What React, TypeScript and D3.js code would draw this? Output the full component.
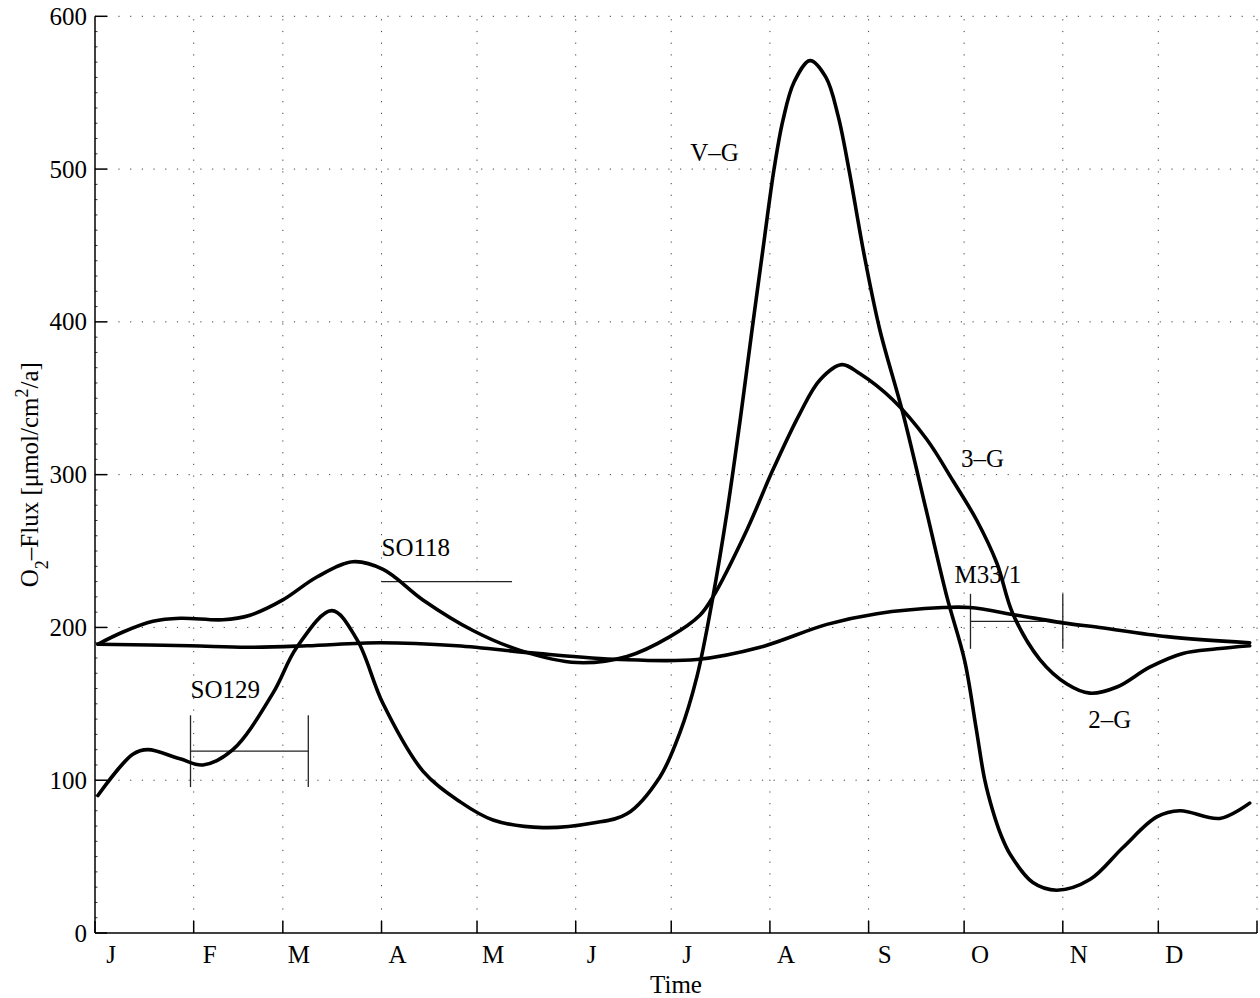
import React from "react";
import * as d3 from "d3";

// ---- data (x = day of year, y = O2 flux) ----
const monthLabels = ["J", "F", "M", "A", "M", "J", "J", "A", "S", "O", "N", "D"];
const monthStarts = [0, 31, 59, 90, 120, 151, 181, 212, 243, 273, 304, 334, 365];
const yTicks = [0, 100, 200, 300, 400, 500, 600];

const seriesVG: [number, number][] = [
  [0.9, 90], [11.9, 117], [16.6, 120], [26.7, 114], [33.9, 110], [43.3, 120],
  [55.9, 157], [63.4, 187], [74.4, 211], [82.3, 192], [90.5, 150], [103.0, 106],
  [114.6, 86], [125.0, 74], [140.7, 69], [156.4, 72], [167.1, 78], [177.4, 102],
  [183.7, 131], [189.1, 168], [194.1, 220], [198.5, 275], [202.6, 335], [206.4, 395],
  [210.1, 452], [213.3, 500], [216.1, 532], [219.6, 557], [224.6, 571], [229.6, 560],
  [233.4, 535], [236.8, 500], [241.5, 445], [246.5, 395], [253.8, 340], [261.3, 275],
  [267.6, 220], [273.2, 178], [276.7, 135], [279.5, 100], [282.0, 80], [284.6, 64],
  [287.6, 51], [294.6, 33], [302.1, 28], [312.5, 35], [322.9, 56], [333.5, 76],
  [340.8, 80], [353.3, 75], [362.7, 85],
];

const series3G: [number, number][] = [
  [0.9, 189], [8.8, 197], [18.2, 204], [26.7, 206], [40.2, 205], [48.7, 208],
  [59.0, 218], [69.7, 233], [81.0, 243], [90.5, 238], [103.0, 218], [118.7, 198],
  [133.5, 185], [151.4, 177], [167.1, 181], [180.6, 194], [190.0, 208], [194.1, 220],
  [204.8, 264], [212.9, 303], [221.4, 340], [227.7, 362], [234.6, 372], [240.3, 366],
  [250.6, 349], [261.3, 323], [269.5, 296], [277.0, 270], [283.3, 242], [288.3, 209],
  [296.8, 179], [305.3, 163], [312.5, 157], [321.0, 161], [331.3, 174], [341.7, 183],
  [352.4, 186], [362.7, 188],
];

const series2G: [number, number][] = [
  [0.9, 189], [29.8, 188], [47.7, 187], [66.6, 188], [89.5, 190], [113.7, 188],
  [138.8, 183], [164.9, 179], [189.1, 179], [208.9, 187], [229.9, 202], [245.6, 209],
  [266.3, 213], [274.8, 213], [289.6, 208], [304.0, 203], [315.6, 200], [336.7, 194],
  [362.7, 190],
];

// cruise periods
const cruiseNames = ["SO129", "SO118", "M33/1"];
const cruiseStart = [30, 90, 275];
const cruiseEnd = [67, 131, 304];
const cruiseValue = [119, 230, 204];
const cruiseHalf = [23.5, 0, 18];
const cruiseLabelPos: [number, number][] = [[30, 154], [90, 247], [270, 229]];

const curveLabels = ["V–G", "3–G", "2–G"];
const curveLabelPos: [number, number][] = [[187, 505], [272, 305], [312, 134]];

const W = 1260;
const H = 998;
const L = 95;
const R = 1257;
const T = 16.3;
const B = 933;

export default function App() {
  const x = d3.scaleLinear().domain([0, 365]).range([L, R]);
  const y = d3.scaleLinear().domain([0, 600]).range([B, T]);
  const line = d3
    .line<[number, number]>()
    .x((d) => x(d[0]))
    .y((d) => y(d[1]))
    .curve(d3.curveCatmullRom.alpha(0.5));

  const font = "'Liberation Serif', 'DejaVu Serif', serif";
  const minor = d3.range(0, 601, 10).filter((v) => v % 100 !== 0);

  return (
    <svg
      width={W}
      height={H}
      style={{ position: "absolute", left: 0, top: 0, display: "block", background: "#fff" }}
      fontFamily={font}
    >
      {/* grid */}
      <g stroke="#000" strokeWidth={1} strokeDasharray="1.2 10.5" opacity={0.75}>
        {yTicks.filter((v) => v > 0).map((v) => (
          <line key={"gy" + v} x1={L} x2={R} y1={y(v)} y2={y(v)} />
        ))}
        {monthStarts.filter((d) => d > 0).map((d) => (
          <line key={"gx" + d} x1={x(d)} x2={x(d)} y1={B} y2={T} />
        ))}
      </g>

      {/* axes */}
      <g stroke="#000" strokeWidth={1.5} fill="none">
        <line x1={L} x2={L} y1={T} y2={B} />
        <line x1={L} x2={R} y1={B} y2={B} />
        {yTicks.map((v) => (
          <line key={"ty" + v} x1={L} x2={L + 12} y1={y(v)} y2={y(v)} />
        ))}
        {monthStarts.map((d) => (
          <line key={"tx" + d} x1={x(d)} x2={x(d)} y1={B} y2={B - 12} />
        ))}
      </g>
      <g stroke="#000" strokeWidth={0.8}>
        {minor.map((v) => (
          <line key={"my" + v} x1={L} x2={L + 2.5} y1={y(v)} y2={y(v)} />
        ))}
      </g>

      {/* tick labels */}
      <g fontSize={25} fill="#000">
        {yTicks.map((v) => (
          <text key={"ly" + v} x={L - 8} y={y(v) + 8.5} textAnchor="end">
            {v}
          </text>
        ))}
        {monthLabels.map((m, i) => (
          <text key={"lx" + i} x={x(monthStarts[i]) + 16} y={963} textAnchor="middle">
            {m}
          </text>
        ))}
        <text x={676} y={993} textAnchor="middle">Time</text>
        <text transform={`translate(38,${(T + B) / 2}) rotate(-90)`} textAnchor="middle">
          O<tspan baselineShift="sub" fontSize={18}>2</tspan>
          <tspan>–Flux [μmol/cm</tspan>
          <tspan baselineShift="super" fontSize={18}>2</tspan>
          <tspan>/a]</tspan>
        </text>
      </g>

      {/* cruise periods */}
      <g stroke="#222" strokeWidth={1.3}>
        {cruiseNames.map((n, i) => (
          <g key={"c" + i}>
            <line x1={x(cruiseStart[i])} x2={x(cruiseEnd[i])} y1={y(cruiseValue[i])} y2={y(cruiseValue[i])} />
            {cruiseHalf[i] > 0 && (
              <>
                <line
                  x1={x(cruiseStart[i])}
                  x2={x(cruiseStart[i])}
                  y1={y(cruiseValue[i] - cruiseHalf[i])}
                  y2={y(cruiseValue[i] + cruiseHalf[i])}
                />
                <line
                  x1={x(cruiseEnd[i])}
                  x2={x(cruiseEnd[i])}
                  y1={y(cruiseValue[i] - cruiseHalf[i])}
                  y2={y(cruiseValue[i] + cruiseHalf[i])}
                />
              </>
            )}
          </g>
        ))}
      </g>

      {/* curves */}
      <g fill="none" stroke="#000" strokeWidth={3.6} strokeLinejoin="round" strokeLinecap="round">
        <path d={line(series2G) || ""} />
        <path d={line(series3G) || ""} />
        <path d={line(seriesVG) || ""} />
      </g>

      {/* labels */}
      <g fontSize={25} fill="#000">
        {cruiseNames.map((n, i) => (
          <text key={"cl" + i} x={x(cruiseLabelPos[i][0])} y={y(cruiseLabelPos[i][1])}>
            {n}
          </text>
        ))}
        {curveLabels.map((n, i) => (
          <text key={"vl" + i} x={x(curveLabelPos[i][0])} y={y(curveLabelPos[i][1])}>
            {n}
          </text>
        ))}
      </g>
    </svg>
  );
}
